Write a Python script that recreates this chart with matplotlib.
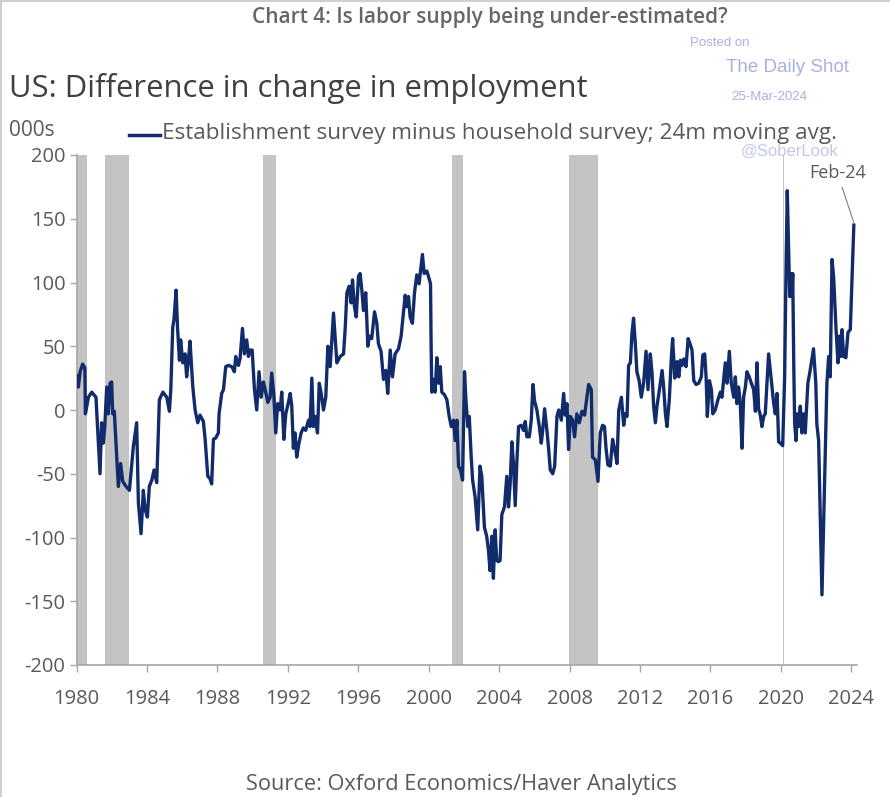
"""Recreate the 'Difference in change in employment' chart (establishment minus household survey)."""

import matplotlib

matplotlib.use("Agg")
import matplotlib.pyplot as plt
from matplotlib.lines import Line2D
from matplotlib.ticker import FuncFormatter, MultipleLocator

# Decimal year of each read-off point and its value (000s), 24m moving average
YEARS = [
    1980.00, 1980.04, 1980.10, 1980.20, 1980.34, 1980.47, 1980.50, 1980.67, 1980.86, 1981.10,
    1981.33, 1981.42, 1981.52, 1981.60, 1981.71, 1981.80, 1981.90, 1981.99, 1982.05, 1982.14,
    1982.37, 1982.50, 1982.62, 1982.81, 1983.00, 1983.22, 1983.41, 1983.51, 1983.66, 1983.79,
    1983.89, 1984.02, 1984.13, 1984.27, 1984.40, 1984.55, 1984.70, 1984.90, 1985.12, 1985.27,
    1985.35, 1985.46, 1985.53, 1985.65, 1985.73, 1985.84, 1985.91, 1986.03, 1986.16, 1986.25,
    1986.35, 1986.44, 1986.60, 1986.73, 1986.88, 1987.01, 1987.20, 1987.30, 1987.45, 1987.58,
    1987.67, 1987.77, 1987.90, 1988.05, 1988.09, 1988.24, 1988.34, 1988.47, 1988.62, 1988.81,
    1988.96, 1989.04, 1989.19, 1989.28, 1989.42, 1989.53, 1989.66, 1989.76, 1989.85, 1989.97,
    1990.10, 1990.23, 1990.36, 1990.48, 1990.61, 1990.74, 1990.86, 1990.99, 1991.08, 1991.20,
    1991.31, 1991.42, 1991.56, 1991.65, 1991.77, 1991.88, 1992.03, 1992.13, 1992.22, 1992.31,
    1992.41, 1992.50, 1992.63, 1992.75, 1992.88, 1993.01, 1993.17, 1993.26, 1993.36, 1993.45,
    1993.55, 1993.68, 1993.78, 1993.89, 1994.02, 1994.15, 1994.27, 1994.40, 1994.59, 1994.78,
    1994.97, 1995.16, 1995.25, 1995.35, 1995.48, 1995.59, 1995.67, 1995.78, 1995.88, 1996.01,
    1996.10, 1996.20, 1996.29, 1996.42, 1996.54, 1996.63, 1996.76, 1996.92, 1997.05, 1997.14,
    1997.29, 1997.43, 1997.56, 1997.67, 1997.81, 1997.94, 1998.09, 1998.28, 1998.43, 1998.56,
    1998.66, 1998.75, 1998.85, 1998.94, 1999.07, 1999.19, 1999.32, 1999.45, 1999.57, 1999.64,
    1999.74, 1999.89, 2000.02, 2000.10, 2000.13, 2000.17, 2000.27, 2000.36, 2000.46, 2000.55,
    2000.65, 2000.74, 2000.89, 2001.03, 2001.16, 2001.28, 2001.41, 2001.50, 2001.60, 2001.69,
    2001.80, 2001.92, 2002.03, 2002.11, 2002.22, 2002.30, 2002.41, 2002.49, 2002.63, 2002.78,
    2002.91, 2003.01, 2003.16, 2003.29, 2003.39, 2003.48, 2003.58, 2003.67, 2003.77, 2003.86,
    2003.96, 2004.05, 2004.15, 2004.30, 2004.43, 2004.53, 2004.62, 2004.72, 2004.81, 2004.91,
    2005.00, 2005.10, 2005.25, 2005.38, 2005.48, 2005.57, 2005.71, 2005.82, 2005.92, 2006.01,
    2006.14, 2006.28, 2006.39, 2006.47, 2006.58, 2006.71, 2006.81, 2006.90, 2007.04, 2007.15,
    2007.28, 2007.38, 2007.53, 2007.66, 2007.75, 2007.85, 2007.94, 2008.04, 2008.17, 2008.28,
    2008.41, 2008.55, 2008.70, 2008.85, 2008.98, 2009.08, 2009.23, 2009.30, 2009.46, 2009.61,
    2009.74, 2009.87, 2009.98, 2010.06, 2010.17, 2010.31, 2010.44, 2010.56, 2010.69, 2010.79,
    2010.94, 2011.07, 2011.16, 2011.26, 2011.35, 2011.45, 2011.54, 2011.63, 2011.73, 2011.82,
    2011.95, 2012.07, 2012.20, 2012.34, 2012.45, 2012.58, 2012.68, 2012.77, 2012.87, 2012.96,
    2013.10, 2013.25, 2013.34, 2013.44, 2013.53, 2013.66, 2013.78, 2013.85, 2013.97, 2014.10,
    2014.20, 2014.29, 2014.39, 2014.48, 2014.61, 2014.73, 2014.86, 2014.95, 2015.05, 2015.18,
    2015.33, 2015.48, 2015.56, 2015.67, 2015.75, 2015.82, 2015.94, 2016.05, 2016.13, 2016.27,
    2016.42, 2016.56, 2016.65, 2016.75, 2016.84, 2016.94, 2017.07, 2017.18, 2017.32, 2017.41,
    2017.50, 2017.60, 2017.69, 2017.79, 2017.88, 2017.98, 2018.07, 2018.20, 2018.32, 2018.45,
    2018.55, 2018.64, 2018.73, 2018.83, 2018.92, 2019.02, 2019.11, 2019.21, 2019.30, 2019.45,
    2019.59, 2019.68, 2019.78, 2019.87, 2019.97, 2020.10, 2020.21, 2020.29, 2020.36, 2020.44,
    2020.50, 2020.55, 2020.63, 2020.67, 2020.73, 2020.78, 2020.86, 2020.92, 2021.00, 2021.10,
    2021.19, 2021.29, 2021.38, 2021.53, 2021.66, 2021.85, 2021.98, 2022.04, 2022.14, 2022.33,
    2022.61, 2022.71, 2022.80, 2022.90, 2022.99, 2023.13, 2023.24, 2023.32, 2023.39, 2023.47,
    2023.56, 2023.69, 2023.81, 2023.94, 2024.05, 2024.14,
]
VALUES = [
    20, 27, 18, 30, 36, 33, -3, 10, 14, 10,
    -50, -10, -26, -13, 18, -3, 21, 22, -3, -1,
    -60, -42, -56, -60, -63, -29, -10, -73, -97, -63,
    -78, -84, -60, -55, -47, -57, 8, 14, 10, -1,
    16, 65, 71, 94, 65, 39, 55, 37, 44, 26,
    39, 54, 18, 0, -10, -4, -9, -23, -52, -54,
    -58, -23, -22, -18, -3, 13, 16, 34, 35, 34,
    30, 42, 35, 40, 64, 44, 55, 42, 47, 47,
    16, 0, 30, 10, 22, 14, 6, 10, 29, 12,
    -18, 5, 0, 14, -23, -3, 6, 13, 3, -30,
    -18, -37, -26, -18, -14, -16, -8, -13, 25, -13,
    -5, -18, 21, 13, 0, 10, 50, 34, 76, 37,
    42, 44, 63, 92, 97, 84, 102, 81, 73, 105,
    107, 94, 78, 92, 50, 58, 56, 77, 68, 52,
    46, 24, 31, 13, 47, 26, 44, 48, 58, 76,
    90, 81, 89, 73, 68, 92, 106, 99, 114, 122,
    107, 109, 103, 99, 55, 14, 24, 14, 41, 21,
    34, 14, 12, 8, -5, -13, -8, -24, -8, -44,
    -47, -55, 30, 8, -13, -5, -37, -55, -68, -94,
    -44, -52, -92, -99, -110, -126, -99, -132, -94, -118,
    -119, -118, -82, -76, -52, -76, -58, -25, -42, -75,
    -42, -13, -12, -16, -9, -21, -21, -8, 20, 7,
    0, -13, -26, -16, 1, -16, -31, -47, -50, -44,
    -5, 0, -8, 13, -4, 5, -31, -5, -8, -21,
    -3, -10, -1, -4, 10, 20, 16, -37, -39, -56,
    -18, -12, -13, -29, -43, -44, -23, -31, -42, 0,
    10, -12, -3, -5, 35, 37, 60, 72, 52, 30,
    23, 10, 21, 46, 16, 44, 29, 3, -10, 3,
    16, 31, 18, -3, -13, 8, 42, 56, 25, 38,
    26, 39, 35, 40, 34, 56, 51, 47, 23, 20,
    21, 26, 43, 44, 26, -5, 23, 16, -3, 0,
    8, 14, 10, 24, 37, 21, 46, 21, 10, 26,
    5, 18, 5, -30, 10, 18, 30, 26, 21, 16,
    -1, 37, 1, -4, -13, -5, -3, 21, 44, 24,
    5, -3, 13, -25, -26, -28, 26, 110, 172, 126,
    89, 107, 89, 107, 34, -11, -24, -3, -13, 3,
    -18, -3, -18, 21, 31, 48, 21, -11, -24, -145,
    21, 42, 26, 118, 105, 63, 37, 58, 42, 63,
    42, 41, 61, 63, 107, 145,
]

# Recession shading (start, end) in decimal years
RECESSION_STARTS = [1980.0, 1981.6, 1990.6, 2001.3, 2007.97, 2020.1]
RECESSION_ENDS = [1980.57, 1983.0, 1991.3, 2001.97, 2009.6, 2020.2]

X_TICKS = list(range(1980, 2025, 4))
LAST_LABEL = "Feb-24"

LINE_COLOR = "#112b6b"
TEXT_COLOR = "#595959"
AXIS_COLOR = "#a6a6a6"
BAND_COLOR = "#c4c4c4"
MARK_COLOR = "#aab0de"

W, H = 890, 797


def fx(px):
    return px / W


def fy(py):
    return 1 - py / H


def main():
    plt.rcParams["font.family"] = ["Open Sans", "DejaVu Sans"]
    plt.rcParams["axes.unicode_minus"] = False

    fig = plt.figure(figsize=(W / 100, H / 100), dpi=100)

    # thin frame on top and left edge like the screenshot
    fig.add_artist(Line2D([0, 1], [fy(1), fy(1)], color="#cfcfcf", lw=1.5))
    fig.add_artist(Line2D([fx(1), fx(1)], [0, 1], color="#cfcfcf", lw=1.5))

    ax = fig.add_axes([fx(76.6), fy(665), fx(857 - 76.6), (665 - 155) / H])

    for start, end in zip(RECESSION_STARTS, RECESSION_ENDS):
        ax.axvspan(start, end, color=BAND_COLOR, lw=0, zorder=0)

    ax.plot(YEARS, VALUES, color=LINE_COLOR, lw=2.4, zorder=3, solid_joinstyle="round")

    ax.set_xlim(1980, 2024.32)
    ax.set_ylim(-200, 200)
    ax.set_xticks(X_TICKS)
    ax.yaxis.set_major_locator(MultipleLocator(50))
    ax.yaxis.set_major_formatter(FuncFormatter(lambda v, _p: f"{v:.0f}"))
    ax.tick_params(axis="both", direction="out", length=5, width=1,
                   color=AXIS_COLOR, labelcolor=TEXT_COLOR, labelsize=14.5)
    ax.tick_params(axis="x", pad=12)
    ax.tick_params(axis="y", pad=3)
    for side in ("top", "right"):
        ax.spines[side].set_visible(False)
    for side in ("left", "bottom"):
        ax.spines[side].set_color(AXIS_COLOR)
        ax.spines[side].set_linewidth(1.2)

    ax.annotate(
        LAST_LABEL,
        xy=(YEARS[-1], VALUES[-1] + 2),
        xytext=(2023.2, 186),
        ha="center",
        va="center",
        fontsize=13,
        color=TEXT_COLOR,
        arrowprops=dict(arrowstyle="-", color="#7f7f7f", lw=0.8, shrinkA=2, shrinkB=0),
        zorder=4,
    )

    # headings
    fig.text(0.55, fy(17), "Chart 4: Is labor supply being under-estimated?",
             ha="center", va="center", fontsize=15, fontweight="semibold", color="#666666")
    fig.text(fx(9), fy(88), "US: Difference in change in employment",
             ha="left", va="center", fontsize=22.3, color="#404040")
    fig.text(fx(9), fy(130), "000s", ha="left", va="center", fontsize=15, color=TEXT_COLOR)

    # watermark
    mark_font = ["Liberation Sans", "DejaVu Sans"]
    fig.text(fx(720), fy(43), "Posted on", ha="center", va="center",
             fontsize=9.5, color=MARK_COLOR, family=mark_font)
    fig.text(fx(787), fy(68), "The Daily Shot", ha="center", va="center",
             fontsize=13.5, color=MARK_COLOR, family=mark_font)
    fig.text(fx(769), fy(97), "25-Mar-2024", ha="center", va="center",
             fontsize=9.5, color=MARK_COLOR, family=mark_font)
    fig.text(fx(790), fy(151), "@SoberLook", ha="center", va="center",
             fontsize=12, color="#c3c8ea", family=mark_font)

    # legend
    fig.add_artist(Line2D([fx(129), fx(160)], [fy(135), fy(135)], color=LINE_COLOR, lw=2.5))
    fig.text(fx(162), fy(133), "Establishment survey minus household survey; 24m moving avg.",
             ha="left", va="center", fontsize=16.2, color=TEXT_COLOR)

    fig.text(fx(461), fy(774), "Source: Oxford Economics/Haver Analytics",
             ha="center", va="top", fontsize=15.7, color=TEXT_COLOR)

    fig.savefig("out.png", dpi=100)
    plt.close(fig)


if __name__ == "__main__":
    main()
